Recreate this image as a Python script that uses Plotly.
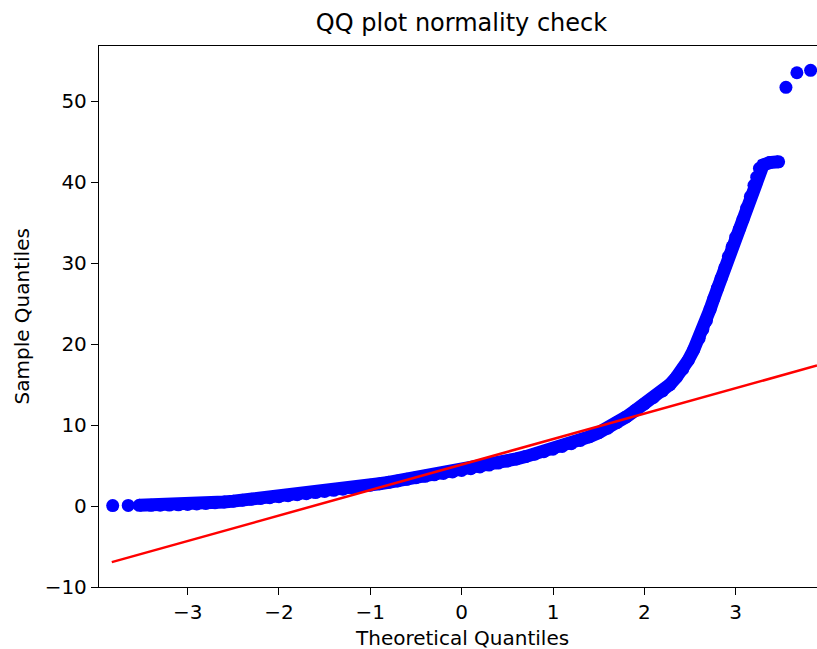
import plotly.graph_objects as go

# Theoretical quantiles (x) and sample quantiles (y)
left_tail_x = [-3.82, -3.65]
left_tail_y = [0.05, 0.07]

band_x = [-3.53, -3.4, -3.3, -3.2, -3.1, -3.0, -2.9, -2.8, -2.7, -2.6, -2.5, -2.4, -2.3, -2.2,
          -2.1, -2.0, -1.9, -1.8, -1.7, -1.6, -1.5, -1.4, -1.3, -1.2, -1.1, -1.0, -0.9, -0.8,
          -0.7, -0.6, -0.5, -0.4, -0.3, -0.2, -0.1, 0.0, 0.1, 0.2, 0.3, 0.4, 0.5, 0.6, 0.7,
          0.8, 0.9, 1.0, 1.1, 1.2, 1.3, 1.4, 1.5, 1.6, 1.7, 1.8, 1.9, 2.0, 2.1, 2.2, 2.28,
          2.35, 2.42, 2.48, 2.54, 2.6, 2.64, 2.68, 2.72, 2.76, 2.8, 2.84, 2.88, 2.92, 2.96,
          3.0, 3.04, 3.08, 3.12, 3.16, 3.2, 3.23, 3.26, 3.3, 3.37, 3.47]
band_y = [0.08, 0.09, 0.1, 0.12, 0.15, 0.19, 0.25, 0.32, 0.4, 0.5, 0.6, 0.71, 0.82, 0.93,
          1.03, 1.15, 1.27, 1.39, 1.52, 1.66, 1.8, 1.94, 2.08, 2.24, 2.4, 2.57, 2.75, 2.92,
          3.1, 3.3, 3.5, 3.67, 3.85, 4.02, 4.2, 4.4, 4.6, 4.82, 5.05, 5.3, 5.55, 5.82, 6.1,
          6.4, 6.7, 7.02, 7.35, 7.7, 8.1, 8.55, 9.05, 9.6, 10.3, 11.0, 11.8, 12.6, 13.4, 14.2, 15.0,
          15.9, 16.9, 18.0, 19.3, 20.7, 21.8, 22.9, 24.3, 25.6, 26.9, 28.1, 29.4, 30.8, 32.0,
          33.2, 34.2, 35.4, 36.8, 38.2, 39.6, 40.6, 41.7, 42.1, 42.4, 42.5]

right_tail_x = [3.55, 3.67, 3.82]
right_tail_y = [51.7, 53.5, 53.8]

line_x = [-3.83, 3.89]
line_y = [-6.93, 17.35]

x_ticks = [-3, -2, -1, 0, 1, 2, 3]
y_ticks = [-10, 0, 10, 20, 30, 40, 50]

BLUE = "#0000ff"
RED = "#ff0000"
FONT = "DejaVu Sans"
INK = "#000000"

fig = go.Figure()
fig.add_trace(go.Scatter(x=left_tail_x, y=left_tail_y, mode="markers",
                         marker=dict(color=BLUE, size=13), showlegend=False))
fig.add_trace(go.Scatter(x=band_x, y=band_y, mode="lines+markers",
                         line=dict(color=BLUE, width=13),
                         marker=dict(color=BLUE, size=13), showlegend=False))
fig.add_trace(go.Scatter(x=right_tail_x, y=right_tail_y, mode="markers",
                         marker=dict(color=BLUE, size=13), showlegend=False))
fig.add_trace(go.Scatter(x=line_x, y=line_y, mode="lines",
                         line=dict(color=RED, width=2.5), showlegend=False))

fig.update_layout(
    width=817, height=649,
    margin=dict(l=99, r=0, t=46, b=62),
    plot_bgcolor="white", paper_bgcolor="white",
    font=dict(family=FONT, size=20, color=INK),
    title=dict(text="QQ plot normality check", x=461.5 / 817, xanchor="center",
               y=1 - 23 / 649, yanchor="middle", font=dict(size=24, family=FONT, color=INK)),
    xaxis=dict(range=[-3.97, 3.89], tickvals=x_ticks, showgrid=False, zeroline=False,
               showline=True, mirror=True, linecolor=INK, linewidth=1.3,
               ticks="outside", ticklen=7, tickwidth=1.3, tickcolor=INK,
               tickfont=dict(size=20)),
    yaxis=dict(range=[-10, 56.8], tickvals=y_ticks, showgrid=False, zeroline=False,
               showline=True, mirror=False, linecolor=INK, linewidth=1.3,
               ticks="outside", ticklen=7, tickwidth=1.3, tickcolor=INK,
               tickfont=dict(size=20)),
    annotations=[
        dict(text="Theoretical Quantiles", xref="paper", yref="paper", x=(461.5 - 99) / 718,
             y=0, xanchor="center", yanchor="middle", yshift=-51, showarrow=False,
             font=dict(size=20, family=FONT, color=INK)),
        dict(text="Sample Quantiles", xref="paper", yref="paper", x=0, xshift=-78,
             y=0.5, xanchor="center", yanchor="middle", textangle=-90, showarrow=False,
             font=dict(size=20, family=FONT, color=INK)),
    ],
)

fig.write_html("out.html",
               config={"displayModeBar": False},
               post_script="document.body.style.margin='0';document.body.style.overflow='hidden';")
